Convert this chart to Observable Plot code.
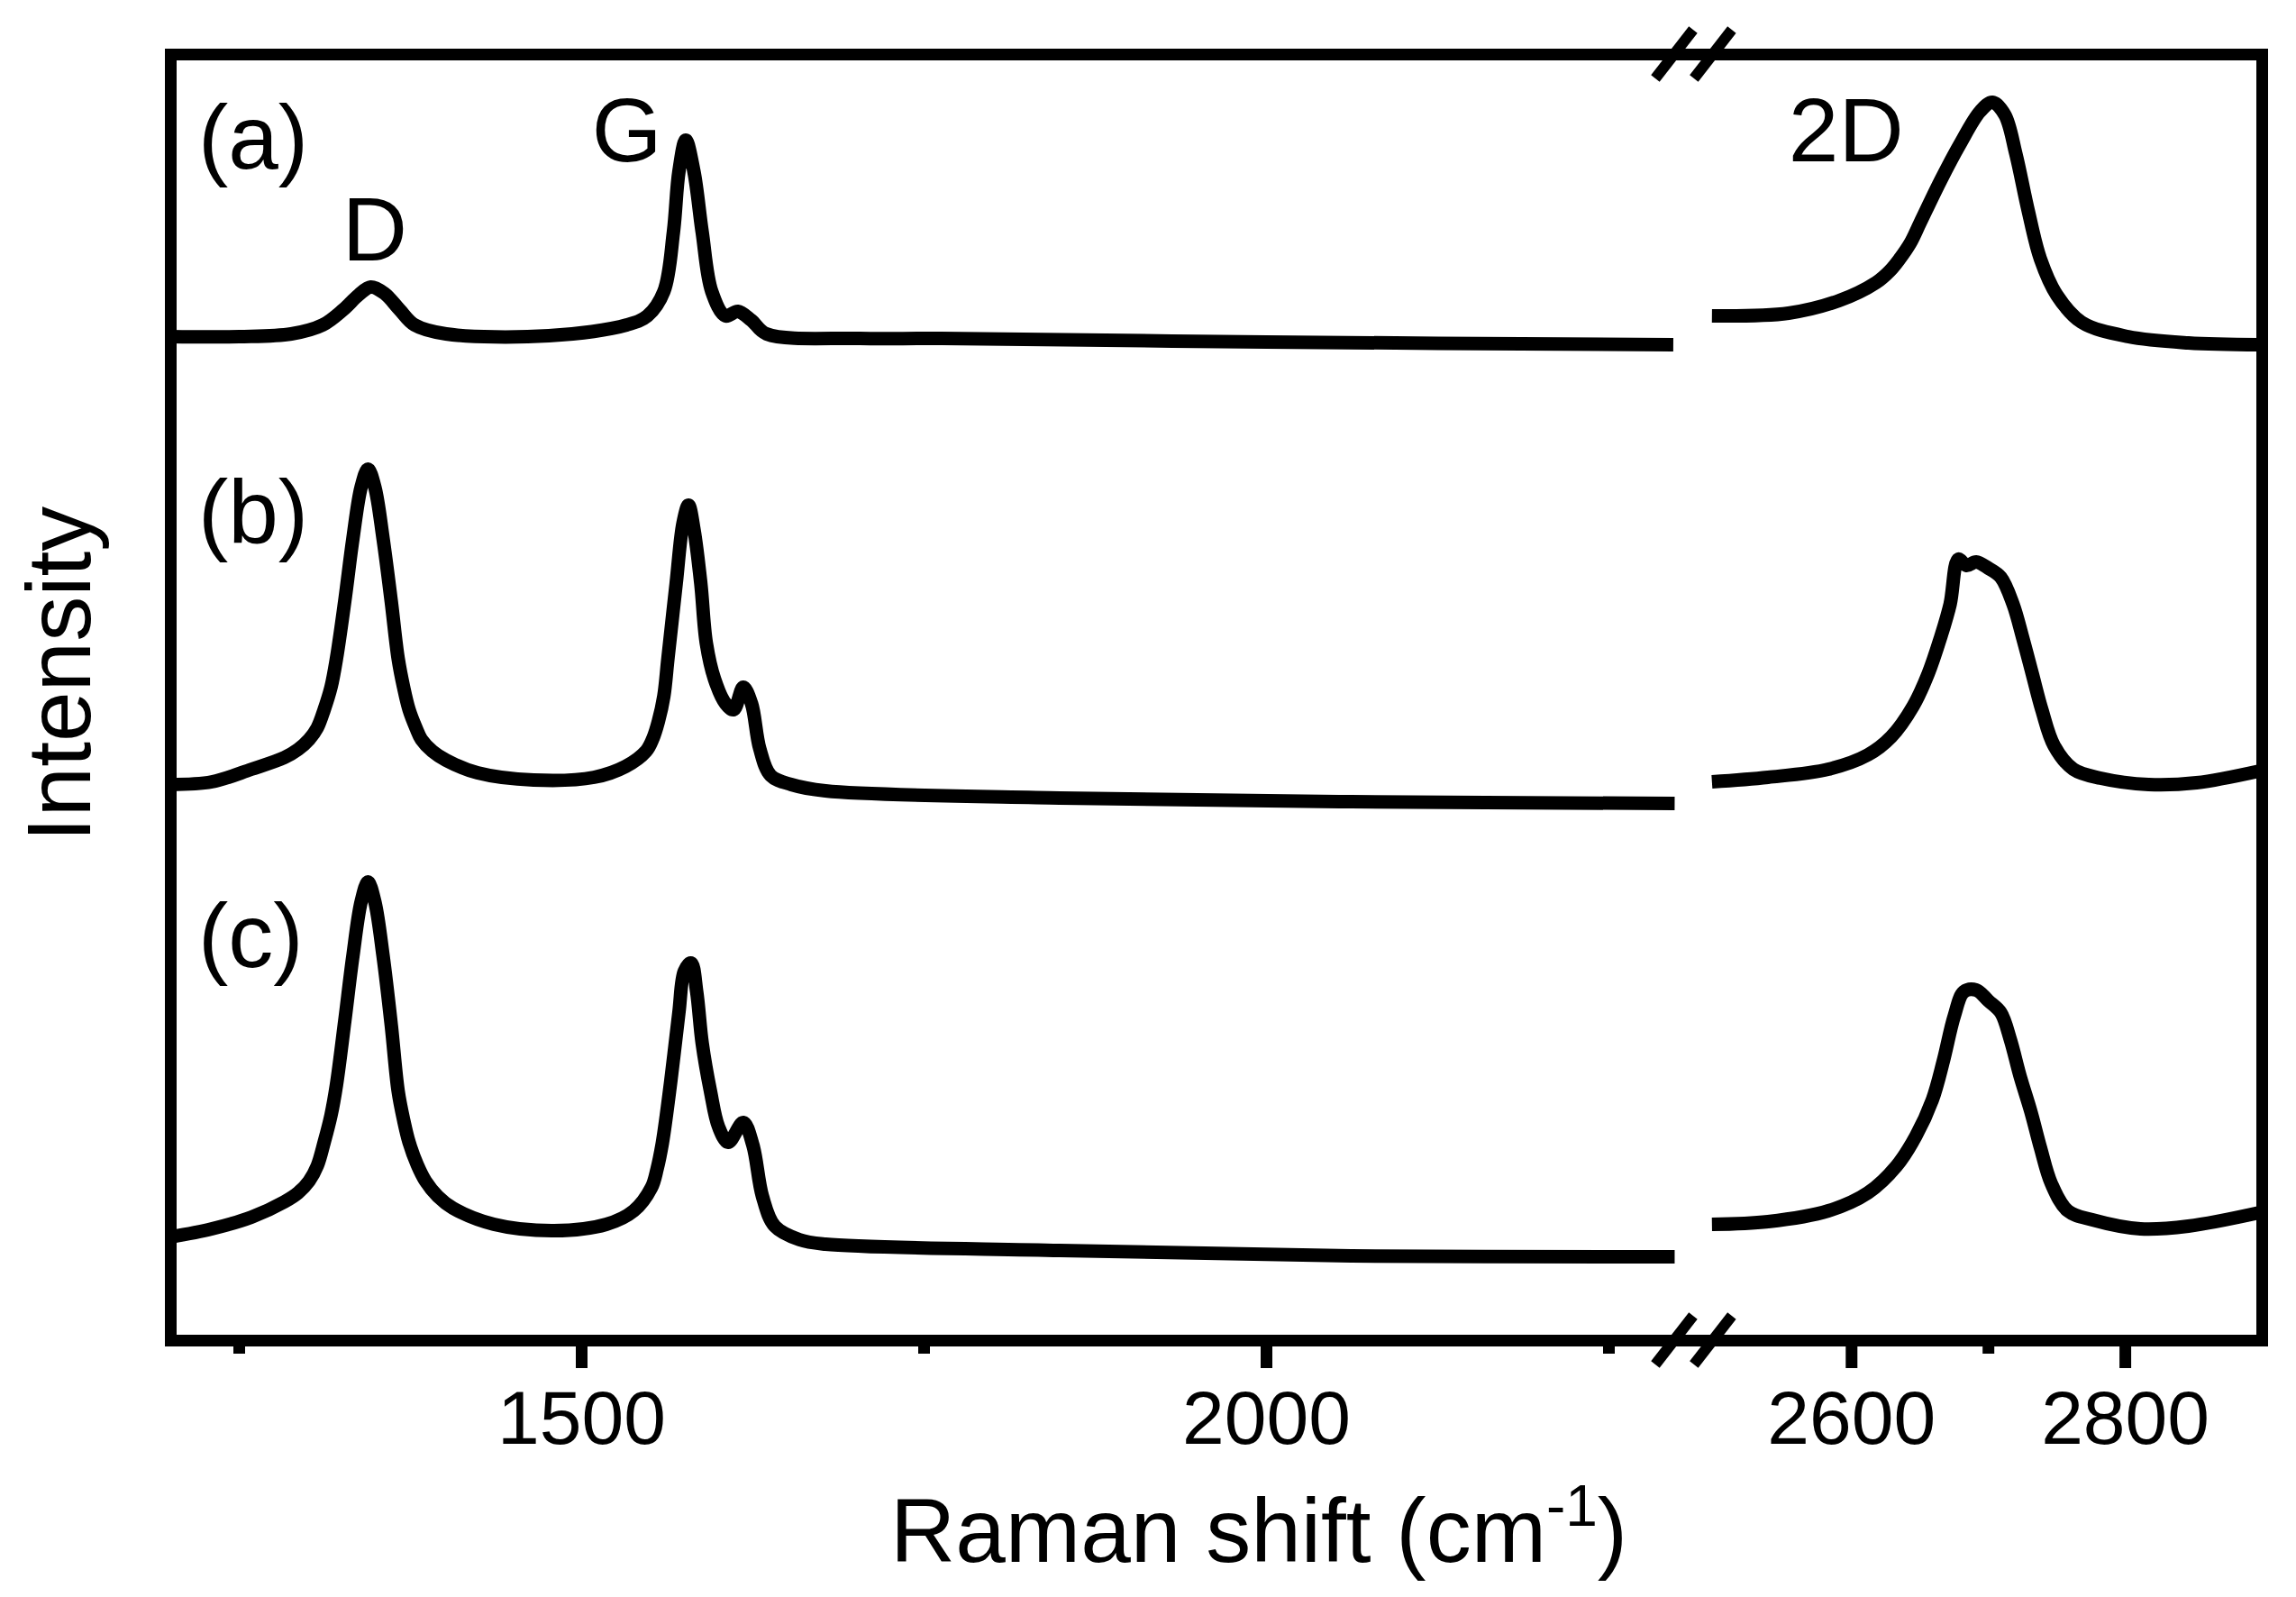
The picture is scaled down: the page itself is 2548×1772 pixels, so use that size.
<!DOCTYPE html>
<html><head><meta charset="utf-8">
<script src="https://cdn.jsdelivr.net/npm/d3@7"></script>
<script src="https://cdn.jsdelivr.net/npm/@observablehq/plot@0.6"></script>
<style>
html,body{margin:0;padding:0;background:#fff;}
#chart{width:2548px;height:1772px;}
</style></head><body><div id="chart"></div>
<script>
// Broken Raman-shift axis: left window and right window (cm^-1)
const xDomain = [1200, 2300, 2480, 2900];
const majorTicks = [1500, 2000, 2600, 2800];
const minorTicks = [1250, 1750, 2250, 2700];

// vertical offsets of the stacked spectra (a.u.)
const spectrumNames = ["(a)", "(b)", "(c)"];
const offsets = [1100, 590, 90];

// [Raman shift, intensity above offset]
const aLeft = [[1200,14],[1250,14],[1288,17],[1311,27],[1326,44],[1337,60],[1346,69],[1356,62],[1367,44],[1378,27],[1401,17],[1476,15],[1533,27],[1548,37],[1560,64],[1567,130],[1571,197],[1576,232],[1582,197],[1588,130],[1595,64],[1605,37],[1614,42],[1624,32],[1635,17],[1703,12],[1763,12],[2000,8],[2297,5]];
const aRight = [[2498,37],[2554,40],[2591,54],[2618,74],[2628,87],[2635,100],[2643,118],[2650,140],[2665,187],[2679,227],[2694,264],[2703,274],[2712,260],[2720,217],[2729,154],[2738,100],[2750,60],[2768,30],[2802,14],[2846,7],[2898,5]];
const bLeft = [[1200,27],[1230,30],[1259,44],[1283,57],[1293,66],[1301,77],[1307,90],[1312,110],[1317,135],[1321,167],[1327,230],[1333,300],[1339,357],[1344,377],[1349,357],[1355,300],[1361,230],[1366,167],[1370,135],[1374,110],[1379,90],[1383,77],[1391,64],[1401,54],[1424,40],[1465,32],[1509,35],[1532,47],[1547,64],[1552,78],[1556,97],[1560,125],[1563,167],[1569,250],[1574,317],[1578,337],[1582,310],[1587,250],[1591,184],[1597,144],[1605,117],[1611,110],[1618,135],[1624,117],[1630,67],[1638,37],[1653,27],[1678,20],[1849,12],[2062,8],[2298,6]];
const bRight = [[2498,30],[2539,35],[2583,44],[2612,60],[2629,80],[2645,114],[2656,150],[2665,190],[2672,227],[2678,277],[2684,270],[2691,274],[2700,267],[2709,257],[2718,227],[2725,190],[2732,150],[2739,110],[2748,70],[2762,44],[2782,34],[2817,27],[2852,29],[2898,42]];
const cLeft = [[1200,25],[1230,34],[1259,47],[1283,64],[1293,74],[1301,87],[1307,104],[1312,130],[1317,160],[1321,194],[1327,264],[1333,337],[1339,397],[1344,419],[1349,397],[1355,337],[1361,260],[1366,187],[1370,155],[1374,130],[1380,105],[1386,87],[1395,70],[1406,57],[1436,39],[1480,32],[1518,39],[1538,54],[1551,80],[1555,100],[1559,130],[1565,197],[1571,274],[1575,320],[1580,329],[1584,297],[1588,240],[1594,187],[1600,147],[1607,130],[1618,152],[1625,127],[1632,70],[1641,37],[1659,22],[1678,17],[1849,10],[2062,4],[2298,3]];
const cRight = [[2498,39],[2539,42],[2583,54],[2612,74],[2633,104],[2647,137],[2659,177],[2667,220],[2675,270],[2682,297],[2691,299],[2700,287],[2709,274],[2716,244],[2723,204],[2731,164],[2738,124],[2746,84],[2758,54],[2776,44],[2811,34],[2846,37],[2898,52]];

// annotations
const panelLabelX = [1220, 1220, 1220];
const panelLabelY = [1301, 885, 415];
const bandNames = ["D", "G", "2D"];
const bandX = [1349, 1533, 2596];
const bandY = [1199, 1309, 1309];

const segments = [[aLeft,0],[aRight,0],[bLeft,1],[bRight,1],[cLeft,2],[cRight,2]];
const rows = segments.flatMap(([pts, i], k) => pts.map(([x, v]) => ({x, y: v + offsets[i], seg: k})));
const panelRows = spectrumNames.map((t, i) => ({t, x: panelLabelX[i], y: panelLabelY[i]}));
const bandRows = bandNames.map((t, i) => ({t, x: bandX[i], y: bandY[i]}));

const W = 2548, H = 1772;
const mL = 189, mR = 38, mT = 60, mB = 285;
const font = "'Liberation Sans', Arial, Helvetica, sans-serif";

const plot = Plot.plot({
  width: W, height: H,
  marginLeft: mL, marginRight: mR, marginTop: mT, marginBottom: mB,
  style: {fontFamily: font, background: "white", color: "black", overflow: "visible"},
  x: {type: "linear", domain: xDomain, range: [mL, 1861, 1872, W - mR]},
  y: {domain: [0, 1427], axis: null},
  marks: [
    Plot.line(rows, {x: "x", y: "y", z: "seg", stroke: "black", strokeWidth: 15, strokeLinecap: "butt", curve: "catmull-rom"}),
    Plot.text(panelRows, {x: "x", y: "y", text: "t", textAnchor: "start", lineAnchor: "bottom", fontSize: 100, fill: "black"}),
    Plot.text(bandRows, {x: "x", y: "y", text: "t", textAnchor: "middle", lineAnchor: "bottom", fontSize: 100, fill: "black"}),
    Plot.frame({stroke: "black", strokeWidth: 13}),
    Plot.axisX({ticks: majorTicks, tickSize: 31, tickPadding: 24, strokeWidth: 13, fontSize: 84, label: null, tickFormat: d => String(d)}),
    Plot.axisX({ticks: minorTicks, tickSize: 15, strokeWidth: 13, label: null, tickFormat: () => ""})
  ]
});
document.getElementById("chart").appendChild(plot);

const svg = d3.select(plot);
const xs = plot.scale("x");
// axis-break marks
const breakVals = [2298, 2499];
const g = svg.append("g").attr("stroke", "black").attr("stroke-width", 12);
for (const yy of [mT, H - mB]) {
  for (const v of breakVals) {
    const cx = xs.apply(v);
    g.append("line").attr("x1", cx - 21).attr("y1", yy + 27).attr("x2", cx + 21).attr("y2", yy - 27);
  }
}
// axis titles
const xt = svg.append("text").attr("x", 988).attr("y", 1733).attr("text-anchor", "start")
  .attr("font-size", 100).attr("fill", "black").attr("font-family", font);
xt.append("tspan").text("Raman shift (cm");
xt.append("tspan").attr("font-size", 64).attr("dy", -40).text("-1");
xt.append("tspan").attr("font-size", 100).attr("dy", 40).text(")");
svg.append("text").attr("transform", "translate(100,748) rotate(-90)").attr("text-anchor", "middle")
  .attr("font-size", 100).attr("fill", "black").attr("font-family", font).text("Intensity");
</script>
</body></html>
